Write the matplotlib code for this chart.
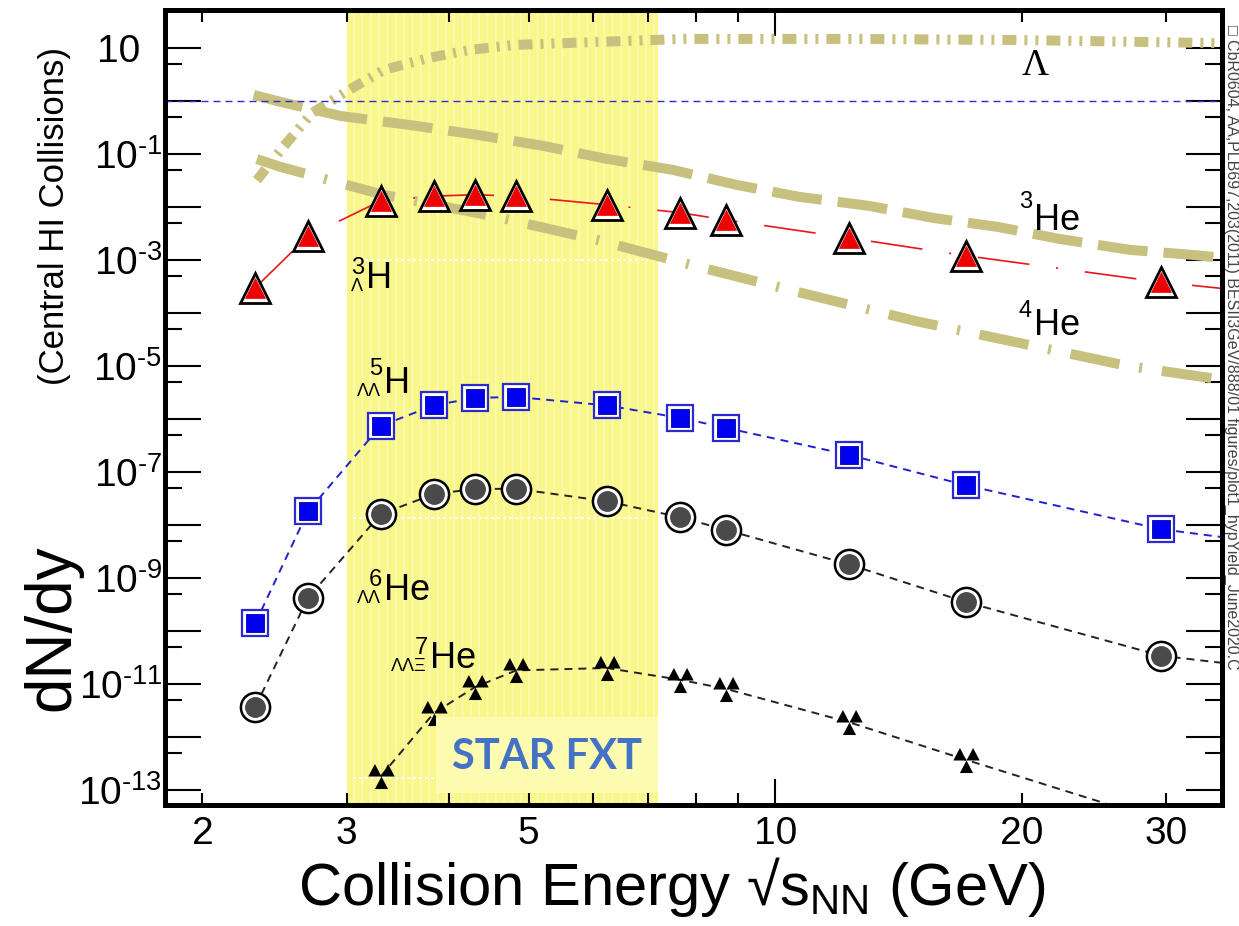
import numpy as np
import matplotlib.pyplot as plt
from matplotlib.path import Path
from matplotlib.patches import Rectangle
from matplotlib.ticker import FixedLocator, FuncFormatter, NullFormatter

plt.rcParams['font.family'] = ['Liberation Sans', 'DejaVu Sans']
plt.rcParams['mathtext.fontset'] = 'custom'
plt.rcParams['mathtext.rm'] = 'Liberation Sans'
plt.rcParams['mathtext.it'] = 'Liberation Sans:italic'
plt.rcParams['mathtext.bf'] = 'Liberation Sans:bold'
plt.rcParams['lines.scale_dashes'] = False
plt.rcParams['hatch.linewidth'] = 1.2

# collision energies (GeV) of the yield points
energy = [2.32, 2.69, 3.30, 3.83, 4.30, 4.83, 6.23, 7.65, 8.70, 12.3, 17.1, 29.6]

# hypernuclei yields dN/dy
yield_h3l = [3.0e-4, 2.8e-3, 1.3e-2, 1.6e-2, 1.7e-2, 1.6e-2, 1.1e-2, 7.8e-3, 5.7e-3, 2.6e-3, 1.2e-3, 3.8e-4]
yield_h5ll = [1.4e-10, 1.8e-8, 7.4e-7, 1.8e-6, 2.5e-6, 2.6e-6, 1.8e-6, 1.05e-6, 6.8e-7, 2.1e-7, 5.6e-8, 8.3e-9]
yield_he6ll = [3.7e-12, 4.2e-10, 1.6e-8, 3.8e-8, 4.8e-8, 4.8e-8, 2.8e-8, 1.4e-8, 8.1e-9, 1.8e-9, 3.5e-10, 3.4e-11]
energy_he7 = energy[2:]
yield_he7 = [1.8e-13, 2.8e-12, 8.7e-12, 1.8e-11, 2.0e-11, 1.2e-11, 8.1e-12, 1.9e-12, 3.7e-13, 2.6e-14]

# where the model curves leave the frame on the right
e_edge = 35.1
edge_h3l = 2.9e-4
edge_h5ll = 5.9e-9
edge_he6ll = 2.5e-11

# thermal model curves for Lambda, 3He, 4He
lam_e = [2.33, 2.51, 2.72, 2.99, 3.33, 3.78, 4.24, 4.81, 6.07, 7.73, 12.3, 20.0, 35.1]
lam_y = [0.032, 0.136, 0.59, 1.48, 3.85, 6.5, 9.2, 11.4, 13.0, 14.8, 14.8, 14.1, 12.3]
he3_e = [2.31, 2.49, 2.95, 3.59, 4.32, 5.21, 6.22, 7.50, 8.98, 10.7, 13.0, 15.6, 18.7, 22.2, 27.1, 32.4, 35.1]
he3_y = [1.3, 0.96, 0.52, 0.35, 0.23, 0.142, 0.081, 0.050, 0.026, 0.0155, 0.0105, 0.0062, 0.0042, 0.0025, 0.00155, 0.00124, 0.0011]
he4_e = [2.33, 2.49, 3.33, 4.51, 6.05, 8.15, 11.0, 14.8, 19.9, 26.9, 35.1]
he4_y = [0.08, 0.057, 0.0168, 0.0068, 0.0024, 7.1e-4, 2.2e-4, 7.1e-5, 2.7e-5, 1.0e-5, 5.5e-6]

x_ticks_major = [10]
x_ticks_minor = [2, 3, 4, 5, 6, 7, 8, 9, 20, 30]
x_ticklabels = {2: '2', 3: '3', 5: '5', 10: '10', 20: '20', 30: '30'}

khaki = '#c8c07e'


def px(v):
    # pixel lengths to points (dpi 100)
    return v * 0.72


def trefoil():
    verts, codes = [], []
    for cx, cy in [(-0.5, 0.45), (0.5, 0.45), (0.0, -0.5)]:
        verts += [(cx - 0.5, cy - 0.45), (cx + 0.5, cy - 0.45), (cx, cy + 0.5), (cx - 0.5, cy - 0.45)]
        codes += [Path.MOVETO, Path.LINETO, Path.LINETO, Path.CLOSEPOLY]
    return Path(verts, codes)


fig = plt.figure(figsize=(12.39, 9.26), dpi=100)
ax = fig.add_axes([165 / 1239, 121 / 926, 1057 / 1239, 795 / 926])
ax.set_xscale('log')
ax.set_yscale('log')
ax.set_xlim(1.8, 35.1)
ax.set_ylim(5.2e-14, 52)

# STAR fixed target energy range
ax.axvspan(3.0, 7.2, facecolor='#faf78a', edgecolor='#fbfab4', hatch='||', lw=0, zorder=0)
for yv in [1.0e-3, 1.35e-8, 1.7e-13]:
    ax.plot([3.05, 7.0], [yv, yv], color='white', lw=1.5, ls=(0, (px(3), px(3))), zorder=1)

# model curves
ax.plot(lam_e, lam_y, color=khaki, lw=px(10), ls=(0, (px(14), px(8), px(3), px(8), px(3), px(8))), zorder=2)
ax.plot(he3_e, he3_y, color=khaki, lw=px(10), ls=(0, (px(50), px(16))), zorder=2)
ax.plot(he4_e, he4_y, color=khaki, lw=px(10), ls=(0, (px(50), px(20), px(3), px(20))), zorder=2)

ax.axhline(1.0, color='#2a2ad8', lw=1.0, ls=(0, (px(7), px(5))), zorder=3)

# yield lines
ax.plot(energy + [e_edge], yield_h3l + [edge_h3l], color='#e8151b', lw=1.2,
        ls=(0, (px(52), px(27), px(2), px(27))), zorder=4)
ax.plot(energy + [e_edge], yield_h5ll + [edge_h5ll], color='#2020d0', lw=1.4,
        ls=(0, (px(8), px(6))), zorder=4)
ax.plot(energy + [e_edge], yield_he6ll + [edge_he6ll], color='#222222', lw=1.4,
        ls=(0, (px(8), px(6))), zorder=4)
ax.plot(energy_he7, yield_he7, color='#222222', lw=1.4, ls=(0, (px(8), px(6))), zorder=4)

# markers
ax.plot(energy, yield_h3l, ls='none', marker='^', ms=21, mfc='white', mec='black', mew=2, zorder=5)
ax.plot(energy, yield_h3l, ls='none', marker='^', ms=15, mfc='#ee0000', mec='#ee0000', mew=0.5, zorder=6)
ax.plot(energy, yield_h5ll, ls='none', marker='s', ms=19, mfc='white', mec='#2a2ad0', mew=1.6, zorder=5)
ax.plot(energy, yield_h5ll, ls='none', marker='s', ms=13, mfc='#0000f0', mec='#0000a0', mew=0.6, zorder=6)
ax.plot(energy, yield_he6ll, ls='none', marker='o', ms=21, mfc='white', mec='black', mew=1.8, zorder=5)
ax.plot(energy, yield_he6ll, ls='none', marker='o', ms=14, mfc='#4a4a4a', mec='#4a4a4a', zorder=6)
ax.plot(energy_he7, yield_he7, ls='none', marker=trefoil(), ms=19, mfc='black', mec='none', zorder=6)


def nucleus(x, y, main, sup, sub, sup_dy, sub_dy=-3, size=26):
    kw = dict(xycoords='data', textcoords='offset points', va='baseline', zorder=7)
    ax.annotate(main, (x, y), xytext=(0, 0), ha='left', fontsize=size, **kw)
    if sup:
        ax.annotate(sup, (x, y), xytext=(px(-2), px(sup_dy)), ha='right', fontsize=17, **kw)
    if sub:
        ax.annotate(sub, (x, y), xytext=(px(-3), px(sub_dy)), ha='right', fontsize=13, **kw)


nucleus(3.17, 2.95e-4, 'H', '3', 'Λ', 14)
nucleus(3.33, 3.1e-6, 'H', '5', 'ΛΛ', 18)
nucleus(3.33, 3.85e-10, 'He', '6', 'ΛΛ', 14)
nucleus(3.79, 2.0e-11, 'He', '7', 'ΛΛΞ', 14)
nucleus(20.7, 3.7e-3, 'He', '3', None, 22)
nucleus(20.7, 3.85e-5, 'He', '4', None, 18)
ax.annotate('Λ', (20.0, 3.09), ha='left', va='baseline', fontsize=27, family='Liberation Serif', zorder=7)

# label box for the fixed target program
ax.add_patch(Rectangle((3.86, 10 ** -13.06), 7.2 - 3.86, 10 ** -11.62 - 10 ** -13.06,
                       facecolor='#fdfcb0', edgecolor='none', zorder=8))
ax.text(5.27, 10 ** -12.38, 'STAR FXT', ha='center', va='center', fontsize=30, fontweight='bold',
        family='Lato', color='#4472c4', zorder=9)

# axes
ax.xaxis.set_major_locator(FixedLocator(x_ticks_major))
ax.xaxis.set_minor_locator(FixedLocator(x_ticks_minor))
ax.xaxis.set_major_formatter(FuncFormatter(lambda v, p: x_ticklabels.get(int(round(v)), '')))
ax.xaxis.set_minor_formatter(FuncFormatter(lambda v, p: x_ticklabels.get(int(round(v)), '')))

decades = [10.0 ** n for n in range(-13, 2)]
ax.yaxis.set_major_locator(FixedLocator(decades))
ax.yaxis.set_minor_locator(FixedLocator([5 * d for d in decades]))


def ylab(v, p):
    n = int(round(np.log10(v)))
    if n >= 0 or n % 2 == 0:
        return ''
    return '$\\mathregular{10^{\u2010%d}}$' % (-n)


ax.yaxis.set_major_formatter(FuncFormatter(ylab))
ax.yaxis.set_minor_formatter(NullFormatter())
# the top decade has no exponent, its "10" lines up with the others
ax.annotate('10', (0, 10), xycoords=('axes fraction', 'data'), xytext=(px(-25), 0),
            textcoords='offset points', ha='right', va='center_baseline', fontsize=28)

ax.tick_params(which='both', direction='in', top=True, right=True, colors='black', width=1.5)
ax.tick_params(axis='y', which='major', length=px(36), labelsize=28, pad=2)
ax.tick_params(axis='y', which='minor', length=px(17))
ax.tick_params(axis='x', which='major', length=px(26), labelsize=28, pad=8)
ax.tick_params(axis='x', which='minor', length=px(12), labelsize=28, pad=8)
for s in ax.spines.values():
    s.set_linewidth(px(5))
    s.set_zorder(10)

fig.text(672 / 1239, 21 / 926, 'Collision Energy √s$\\mathregular{_{NN}}$ (GeV)', ha='center',
         va='baseline', fontsize=43)
fig.text(52 / 1239, 1 - 628 / 926, 'dN/dy', rotation=90, ha='center', va='center', fontsize=46)
fig.text(55 / 1239, 1 - 216 / 926, '(Central HI Collisions)', rotation=90, ha='center', va='center',
         fontsize=25)
fig.text(1232 / 1239, 1 - 25 / 926,
         '□ CbR0604, AA,PLB697,203(2011) BESII3GeV/888/01 figures/plot1_hypYield_June2020.C',
         rotation=-90, ha='center', va='top', fontsize=11.5, color='#444444')

fig.savefig('out.png', dpi=100)
